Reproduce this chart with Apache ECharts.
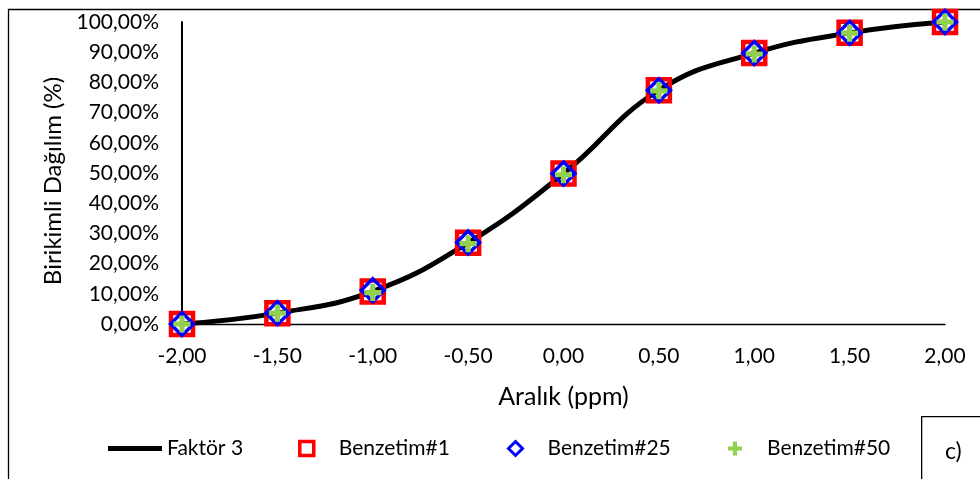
<!DOCTYPE html>
<html>
<head>
<meta charset="utf-8">
<script src="https://cdn.jsdelivr.net/npm/echarts@6/dist/echarts.min.js"></script>
<style>
html,body{margin:0;padding:0;background:#fff;}
#chart{width:980px;height:479px;}
</style>
</head>
<body>
<div id="chart"></div>
<script>
// Data
const xValues = [-2.0, -1.5, -1.0, -0.5, 0.0, 0.5, 1.0, 1.5, 2.0];
const faktor3 = [0.0, 3.6, 10.8, 26.9, 49.8, 77.4, 89.7, 96.4, 100.0];
const benzetim1 = [0.0, 3.6, 10.8, 26.9, 49.8, 77.4, 89.7, 96.4, 100.0];
const benzetim25 = [0.0, 3.6, 11.2, 27.0, 49.8, 77.4, 89.7, 96.4, 100.0];
const benzetim50 = [0.0, 3.6, 10.4, 26.6, 49.4, 77.2, 89.4, 96.3, 100.0];
const seriesNames = ['Faktör 3', 'Benzetim#1', 'Benzetim#25', 'Benzetim#50'];
const xTickLabels = ['-2,00','-1,50','-1,00','-0,50','0,00','0,50','1,00','1,50','2,00'];
const xTitle = 'Aralık (ppm)';
const yTitle = 'Birikimli Dağılım (%)';
const panelLabel = 'c)';

const pairs = arr => xValues.map((x, i) => [x, arr[i]]);
const FONT = 'Lato';
const plusPath = 'path://M3.5,0 L6.5,0 L6.5,3.5 L10,3.5 L10,6.5 L6.5,6.5 L6.5,10 L3.5,10 L3.5,6.5 L0,6.5 L0,3.5 L3.5,3.5 Z';
const squarePath = 'path://M0,0 L10,0 L10,10 L0,10 Z';
const diamondPath = 'path://M5,0 L10,5 L5,10 L0,5 Z';

const legendIcons = [
  {icon: 'path://M0,0 L54,0 L54,5 L0,5 Z', itemStyle: {color: '#000', borderWidth: 0}},
  {icon: squarePath, itemStyle: {color: 'rgba(0,0,0,0)', borderColor: '#ff0000', borderWidth: 3.5}},
  {icon: diamondPath, itemStyle: {color: 'rgba(0,0,0,0)', borderColor: '#0000ff', borderWidth: 3}},
  {icon: plusPath, itemStyle: {color: '#92d050', borderWidth: 0}}
];
const legendLefts = [108, 298, 507, 728];

const chart = echarts.init(document.getElementById('chart'), null, {renderer: 'canvas'});
chart.setOption({
  animation: false,
  backgroundColor: '#fff',
  grid: {left: 182, right: 35, top: 22, bottom: 155, containLabel: false},
  xAxis: {
    type: 'value', min: -2, max: 2, interval: 0.5,
    name: xTitle, nameLocation: 'middle', nameGap: 60,
    nameTextStyle: {fontFamily: FONT, fontSize: 25, color: '#000'},
    axisLine: {show: true, onZero: false, lineStyle: {color: '#000', width: 1.3}},
    axisTick: {show: false},
    splitLine: {show: false},
    axisLabel: {
      margin: 22, fontFamily: FONT, fontSize: 21, color: '#000',
      formatter: v => xTickLabels[Math.round((v + 2) / 0.5)]
    }
  },
  yAxis: {
    type: 'value', min: 0, max: 100, interval: 10,
    name: yTitle, nameLocation: 'middle', nameGap: 113,
    nameTextStyle: {fontFamily: FONT, fontSize: 24, color: '#000', padding: [0, 16, 0, 0]},
    axisLine: {show: true, onZero: false, lineStyle: {color: '#000', width: 2}},
    axisTick: {show: false},
    splitLine: {show: false},
    axisLabel: {
      margin: 23, fontFamily: FONT, fontSize: 21, color: '#000',
      formatter: v => v.toFixed(2).replace('.', ',') + '%'
    }
  },
  legend: seriesNames.map((name, i) => ({
    left: legendLefts[i], top: 438, padding: 0,
    itemWidth: 54, itemHeight: 14, symbolKeepAspect: true,
    textStyle: {fontFamily: FONT, fontSize: 21, color: '#000'},
    data: [Object.assign({name: name}, legendIcons[i])]
  })),
  series: [
    {
      name: seriesNames[0], type: 'line', data: pairs(faktor3),
      smooth: 0.45, showSymbol: false, symbol: 'none', z: 1,
      lineStyle: {color: '#000', width: 5}, itemStyle: {color: '#000'}
    },
    {
      name: seriesNames[1], type: 'scatter', data: pairs(benzetim1),
      symbol: 'rect', symbolSize: 22, z: 2,
      itemStyle: {color: 'rgba(0,0,0,0)', borderColor: '#ff0000', borderWidth: 4.5, opacity: 1}
    },
    {
      name: seriesNames[2], type: 'scatter', data: pairs(benzetim25),
      symbol: 'diamond', symbolSize: 23, z: 3,
      itemStyle: {color: 'rgba(0,0,0,0)', borderColor: '#0000ff', borderWidth: 3.5, opacity: 1}
    },
    {
      name: seriesNames[3], type: 'scatter', data: pairs(benzetim50),
      symbol: plusPath, symbolSize: 17, z: 4,
      itemStyle: {color: '#92d050', opacity: 1}
    }
  ],
  graphic: [
    {type: 'rect', left: 6, top: 7, z: 0, silent: true,
     shape: {width: 1000, height: 500},
     style: {fill: 'none', stroke: '#000', lineWidth: 1.3}},
    {type: 'rect', left: 921, top: 416, z: 10, silent: true,
     shape: {width: 100, height: 100},
     style: {fill: '#fff', stroke: '#000', lineWidth: 1.3}},
    {type: 'text', left: 945, top: 440, z: 11, silent: true,
     style: {text: panelLabel, fontFamily: FONT, fontSize: 23, fill: '#000'}}
  ]
});
</script>
</body>
</html>
